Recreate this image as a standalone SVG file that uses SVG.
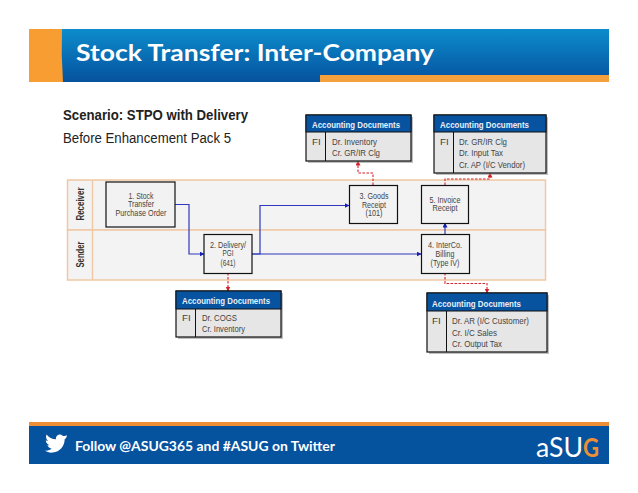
<svg xmlns="http://www.w3.org/2000/svg" width="638" height="493" viewBox="0 0 638 493">
<style>
text{font-family:"Liberation Sans",Arial,sans-serif;fill:#333}
.nb{fill:#f2f2f2;stroke:#111;stroke-width:1.2}
.t{font-size:9.2px;text-anchor:middle;fill:#444}
.lane{fill:#f3f3f3;stroke:#f0c8a4;stroke-width:1.5}
.ll{font-size:10.5px;font-weight:bold;text-anchor:middle}
.doc{fill:#e6e6e6;stroke:#111;stroke-width:1.2}
.shadow{fill:#8a8a8a;opacity:.55}
.dh{fill:#07539f;stroke:#111;stroke-width:1}
.dt{font-size:9.5px;font-weight:bold;fill:#e8f0f8}
.d{font-size:9.8px;fill:#444}
.blue{fill:none;stroke:#2f38bc;stroke-width:1.2;marker-end:url(#ab)}
.red{fill:none;stroke:#d3232a;stroke-width:1.1;stroke-dasharray:2.6 1.4;marker-end:url(#ar)}
.h{font-family:Lato,sans-serif;font-weight:bold;fill:#fff}
.logo{font-family:Lato,sans-serif;font-size:26px;fill:#fff}
</style>
<defs>
<linearGradient id="hg" gradientUnits="userSpaceOnUse" x1="0" y1="29" x2="0" y2="82"><stop offset="0" stop-color="#0c8ccb"/><stop offset="1" stop-color="#06529f"/></linearGradient>
<marker id="ab" markerWidth="5" markerHeight="5" refX="4.5" refY="2.5" orient="auto" markerUnits="userSpaceOnUse"><path d="M0 0L5 2.5L0 5z" fill="#1a1fb0"/></marker>
<marker id="ar" markerWidth="5" markerHeight="5" refX="4.5" refY="2.5" orient="auto" markerUnits="userSpaceOnUse"><path d="M0 0L5 2.5L0 5z" fill="#d3232a"/></marker>
</defs>
<rect width="638" height="493" fill="#fff"/>
<g id="header">
<rect x="29" y="29" width="580" height="53" fill="url(#hg)"/>
<rect x="320" y="75" width="289" height="7" fill="#f4a03c"/>
<path d="M29 29H62Q61 55 63 82H29z" fill="#f79d32"/>
<text class="h" x="76" y="61" font-size="23.500" textLength="358" lengthAdjust="spacingAndGlyphs">Stock Transfer: Inter-Company</text>
</g>
<text x="63" y="120" font-size="15" font-weight="bold" textLength="185" lengthAdjust="spacingAndGlyphs" style="fill:#222">Scenario: STPO with Delivery</text>
<text x="63" y="143" font-size="15.500" textLength="168" lengthAdjust="spacingAndGlyphs" style="fill:#222">Before Enhancement Pack 5</text>
<g id="lanes">
<rect class="lane" x="67.500" y="180" width="478" height="50"/>
<rect class="lane" x="67.500" y="230" width="478" height="50"/>
<path d="M92.500 180V280" stroke="#f0c8a4" stroke-width="1.500"/>
<text class="ll" transform="translate(83.500,204) rotate(-90)" textLength="33" lengthAdjust="spacingAndGlyphs">Receiver</text>
<text class="ll" transform="translate(83.500,254.500) rotate(-90)" textLength="26" lengthAdjust="spacingAndGlyphs">Sender</text>
</g>
<g id="connectors">
<path class="blue" d="M175 204.500H189V254H204"/>
<path class="blue" d="M252 254H260V205.500H349"/>
<path class="blue" d="M252 254H421"/>
<path class="blue" d="M445 235V223"/>
<path class="red" d="M373 185V173H358V161"/>
<path class="red" d="M445 185V179H490V173"/>
<path class="red" d="M228 273V291"/>
<path class="red" d="M445 273V283.500H487V293"/>
</g>
<g id="node1"><rect class="nb" x="106" y="182" width="69" height="45"/><text class="t" x="141" y="199" textLength="25" lengthAdjust="spacingAndGlyphs">1. Stock</text><text class="t" x="141" y="207" textLength="26" lengthAdjust="spacingAndGlyphs">Transfer</text><text class="t" x="141" y="216" textLength="51" lengthAdjust="spacingAndGlyphs">Purchase Order</text></g>
<g id="node2"><rect class="nb" x="204" y="234.500" width="48" height="39"/><text class="t" x="228" y="248" textLength="36" lengthAdjust="spacingAndGlyphs">2. Delivery/</text><text class="t" x="228" y="256" textLength="11" lengthAdjust="spacingAndGlyphs">PGI</text><text class="t" x="228" y="266" textLength="15" lengthAdjust="spacingAndGlyphs">(641)</text></g>
<g id="node3"><rect class="nb" x="349.500" y="185.500" width="48" height="38"/><text class="t" x="374" y="199" textLength="29" lengthAdjust="spacingAndGlyphs">3. Goods</text><text class="t" x="374" y="207.500" textLength="24" lengthAdjust="spacingAndGlyphs">Receipt</text><text class="t" x="374" y="216" textLength="17" lengthAdjust="spacingAndGlyphs">(101)</text></g>
<g id="node5"><rect class="nb" x="421.500" y="185.500" width="47" height="38"/><text class="t" x="445" y="203" textLength="31" lengthAdjust="spacingAndGlyphs">5. Invoice</text><text class="t" x="445" y="211" textLength="25" lengthAdjust="spacingAndGlyphs">Receipt</text></g>
<g id="node4"><rect class="nb" x="421.500" y="234.500" width="48" height="39"/><text class="t" x="445" y="248" textLength="34" lengthAdjust="spacingAndGlyphs">4. InterCo.</text><text class="t" x="445" y="256.500" textLength="19" lengthAdjust="spacingAndGlyphs">Billing</text><text class="t" x="445" y="265.500" textLength="29" lengthAdjust="spacingAndGlyphs">(Type IV)</text></g>
<g id="docA">
<rect class="shadow" x="308" y="117" width="105" height="46"/><rect class="doc" x="306" y="115" width="105" height="46"/><rect class="dh" x="306" y="115" width="105" height="17"/><path d="M325.500 132V161" stroke="#111"/>
<text class="dt" x="312" y="128" textLength="88" lengthAdjust="spacingAndGlyphs">Accounting Documents</text><text class="d" x="312" y="145">FI</text><text class="d" x="332" y="145" textLength="45" lengthAdjust="spacingAndGlyphs">Dr. Inventory</text><text class="d" x="332" y="156" textLength="48" lengthAdjust="spacingAndGlyphs">Cr. GR/IR Clg</text></g>
<g id="docB">
<rect class="shadow" x="436" y="117" width="112" height="58"/><rect class="doc" x="434" y="115" width="112" height="58"/><rect class="dh" x="434" y="115" width="112" height="17"/><path d="M453.500 132V173" stroke="#111"/>
<text class="dt" x="440" y="128" textLength="89" lengthAdjust="spacingAndGlyphs">Accounting Documents</text><text class="d" x="440" y="145">FI</text><text class="d" x="459" y="145" textLength="48" lengthAdjust="spacingAndGlyphs">Dr. GR/IR Clg</text><text class="d" x="459" y="156" textLength="44" lengthAdjust="spacingAndGlyphs">Dr. Input Tax</text><text class="d" x="459" y="168" textLength="66" lengthAdjust="spacingAndGlyphs">Cr. AP (I/C Vendor)</text></g>
<g id="docC">
<rect class="shadow" x="178" y="293" width="105" height="46"/><rect class="doc" x="176" y="291" width="105" height="46"/><rect class="dh" x="176" y="291" width="105" height="18"/><path d="M195.500 309V337" stroke="#111"/>
<text class="dt" x="182" y="303.500" textLength="88" lengthAdjust="spacingAndGlyphs">Accounting Documents</text><text class="d" x="182" y="321">FI</text><text class="d" x="202" y="321" textLength="35" lengthAdjust="spacingAndGlyphs">Dr. COGS</text><text class="d" x="202" y="332" textLength="43" lengthAdjust="spacingAndGlyphs">Cr. Inventory</text></g>
<g id="docD">
<rect class="shadow" x="429" y="295" width="120" height="59"/><rect class="doc" x="427" y="293" width="120" height="59"/><rect class="dh" x="427" y="293" width="120" height="18"/><path d="M446.500 311V352" stroke="#111"/>
<text class="dt" x="432" y="307" textLength="89" lengthAdjust="spacingAndGlyphs">Accounting Documents</text><text class="d" x="432" y="324">FI</text><text class="d" x="452" y="324" textLength="77" lengthAdjust="spacingAndGlyphs">Dr. AR (I/C Customer)</text><text class="d" x="452" y="335.500" textLength="45" lengthAdjust="spacingAndGlyphs">Cr. I/C Sales</text><text class="d" x="452" y="346.500" textLength="50" lengthAdjust="spacingAndGlyphs">Cr. Output Tax</text></g>
<g id="footer">
<rect x="29" y="422" width="580" height="4" fill="#ee8f36"/>
<rect x="29" y="426" width="580" height="38" fill="#05529f"/>
<path transform="translate(45,434) scale(.786,.826) translate(-39,-439.500)" d="M67 441C64 442 63 442 62 442C60 440 57 439.500 55 441C53 442.500 52.500 444 53 446C48 446 44 443.500 41 440C39.500 443 40.500 446 43 448C42 448 41 447.700 40 447.200C40 450 42 452.500 45 453C44 453.300 43 453.300 42 453.200C43 455.500 45 457 47.500 457C45 459 42.500 460 39 459.500C42 461.500 45 462.500 49 462C58 461.500 64 454 64 446C65.500 445 66.500 443.500 67 441z" fill="#fff"/>
<text class="h" x="75" y="451" font-size="13" textLength="260" lengthAdjust="spacingAndGlyphs">Follow @ASUG365 and #ASUG on Twitter</text>
<text class="logo" x="536" y="457" textLength="47" lengthAdjust="spacingAndGlyphs">aSU</text>
<text class="logo" x="583" y="457" textLength="16" lengthAdjust="spacingAndGlyphs" style="fill:#ee8f36;font-weight:bold">G</text>
</g>
</svg>
